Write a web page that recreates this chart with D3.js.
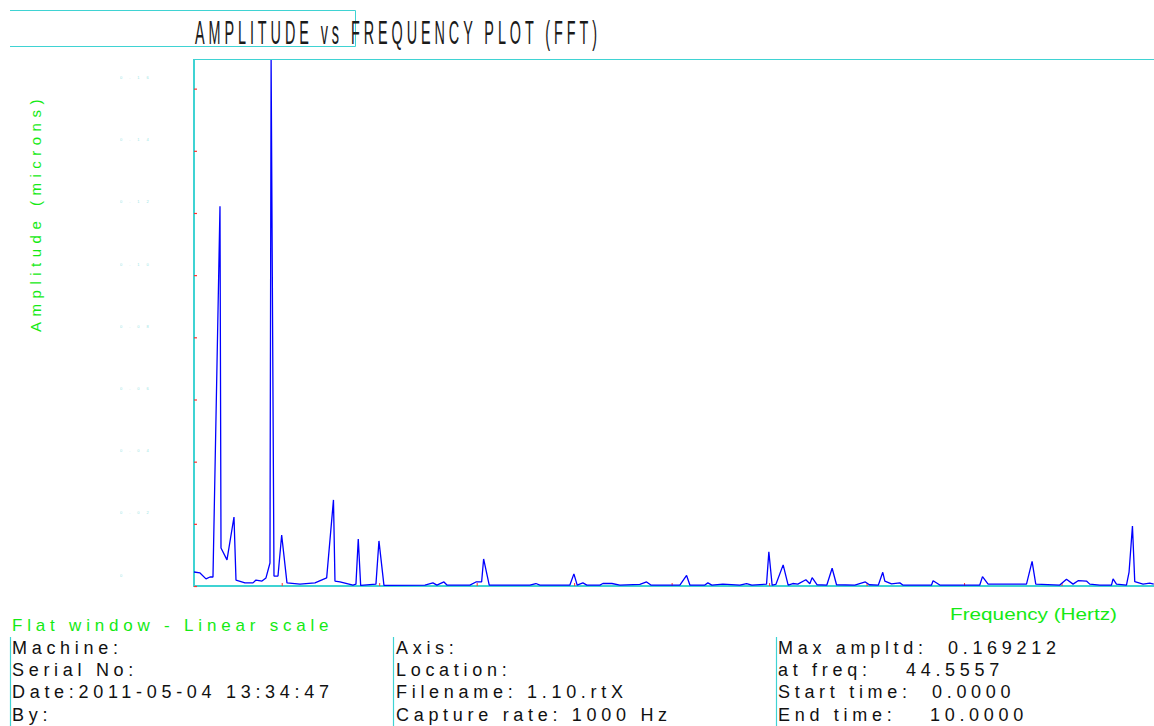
<!DOCTYPE html>
<html>
<head>
<meta charset="utf-8">
<script src="https://cdn.jsdelivr.net/npm/d3@7"></script>
<style>
  html, body { margin: 0; padding: 0; background: #ffffff; }
  svg { display: block; }
  text { font-family: "Liberation Sans", Arial, sans-serif; }
</style>
</head>
<body>
<svg id="chart" width="1154" height="726"></svg>
<script>
// Spectrum peak reported in the footer
const peakFreq = 44.5557;
const peakAmp = 0.169212;

// FFT spectrum vertices: frequency (Hz) and amplitude (microns)
const freqs = [
  5.00, 8.08, 11.15, 13.21, 14.74, 18.33, 18.85, 21.92, 25.51, 26.54,
  31.15, 35.26, 36.79, 39.87, 41.92, 43.97, peakFreq, 46.03, 48.08, 49.97,
  52.69, 59.36, 67.05, 73.05, 76.54, 77.31, 79.87, 86.54, 88.08, 89.26,
  90.49, 98.33, 99.87, 102.44, 123.46, 127.56, 129.62, 133.21, 134.74, 146.54,
  149.62, 152.54, 153.56, 156.44, 177.31, 180.38, 182.44, 197.82, 199.87, 201.56,
  204.49, 206.54, 213.21, 214.74, 219.36, 223.46, 233.72, 237.15, 239.36, 254.23,
  257.67, 259.36, 267.05, 268.59, 270.64, 276.28, 285.00, 288.44, 291.15, 298.69,
  299.87, 301.56, 303.46, 307.21, 309.77, 312.18, 314.74, 318.85, 320.90, 322.08,
  324.64, 329.62, 332.33, 334.59, 343.97, 349.36, 351.44, 356.05, 358.31, 359.36,
  362.79, 367.05, 368.59, 383.31, 384.13, 387.56, 408.08, 409.46, 412.33, 432.03,
  434.90, 436.79, 449.10, 452.54, 455.92, 458.49, 462.79, 464.49, 469.62, 475.62,
  476.44, 478.18, 483.31, 484.64, 486.38, 487.56, 491.82, 495.26, 497.31
];
const amps = [
  0.0045, 0.0042, 0.0023, 0.0029, 0.0029, 0.1222, 0.0122, 0.0084, 0.0222, 0.0019,
  0.0010, 0.0010, 0.0019, 0.0016, 0.0026, 0.0074, peakAmp, 0.0032, 0.0032, 0.0164,
  0.0010, 0.0006, 0.0010, 0.0026, 0.0277, 0.0016, 0.0013, 0.0003, 0.0006, 0.0151,
  0.0002, 0.0006, 0.0145, 0.0002, 0.0003, 0.0010, 0.0003, 0.0013, 0.0003, 0.0003,
  0.0013, 0.0013, 0.0087, 0.0003, 0.0003, 0.0008, 0.0003, 0.0003, 0.0039, 0.0003,
  0.0010, 0.0003, 0.0003, 0.0008, 0.0008, 0.0003, 0.0005, 0.0013, 0.0003, 0.0003,
  0.0034, 0.0003, 0.0003, 0.0010, 0.0003, 0.0006, 0.0003, 0.0008, 0.0003, 0.0006,
  0.0110, 0.0003, 0.0005, 0.0068, 0.0003, 0.0008, 0.0006, 0.0020, 0.0007, 0.0027,
  0.0004, 0.0003, 0.0057, 0.0004, 0.0003, 0.0013, 0.0004, 0.0003, 0.0044, 0.0016,
  0.0007, 0.0010, 0.0003, 0.0003, 0.0017, 0.0003, 0.0003, 0.0030, 0.0006, 0.0006,
  0.0079, 0.0006, 0.0003, 0.0022, 0.0006, 0.0017, 0.0016, 0.0006, 0.0003, 0.0003,
  0.0023, 0.0006, 0.0003, 0.0045, 0.0193, 0.0014, 0.0006, 0.0009, 0.0006
];

// Axis ticks
const xTicks = [50, 100, 150, 200, 250, 300, 350, 400, 450];
const yTicks = [0, 0.02, 0.04, 0.06, 0.08, 0.10, 0.12, 0.14, 0.16];
const yTickLabels = ["0", "0.02", "0.04", "0.06", "0.08", "0.10", "0.12", "0.14", "0.16"];

// Text blocks
const titleText = "AMPLITUDE vs FREQUENCY PLOT (FFT)";
const yTitle = "Amplitude (microns)";
const xTitle = "Frequency (Hertz)";
const windowNote = "Flat window - Linear scale";
const infoLeft = ["Machine:", "Serial No:", "Date:2011-05-04 13:34:47", "By:"];
const infoMid = ["Axis:", "Location:", "Filename: 1.10.rtX", "Capture rate: 1000 Hz"];
const infoRightLabels = ["Max ampltd:", "at freq:", "Start time:", "End time:"];
const infoRightValues = [String(peakAmp), String(peakFreq), "0.0000", "10.0000"];

const CYAN = "#3fd3d3";
const GREEN = "#14ea14";

const svg = d3.select("#chart");

const plot = { left: 194, top: 60, bottom: 586, right: 1159 };

const x = d3.scaleLinear().domain([5, 500]).range([plot.left, plot.right]);
const y = d3.scaleLinear().domain([0, peakAmp]).range([plot.bottom, plot.top]);

// Title box (open on the left) and title
svg.append("path")
  .attr("d", "M10,10.5 H355.5 V46.5 H10")
  .attr("fill", "none").attr("stroke", CYAN).attr("stroke-width", 1);

svg.append("text")
  .attr("x", 195).attr("y", 44)
  .attr("font-size", 33)
  .attr("letter-spacing", 9)
  .attr("fill", "#1a1a1a")
  .attr("textLength", 406)
  .attr("lengthAdjust", "spacingAndGlyphs")
  .style("font-family", "'Liberation Sans Narrow', 'Liberation Sans', Arial, sans-serif")
  .text(titleText);

// Plot frame: top border
svg.append("line")
  .attr("x1", plot.left).attr("x2", 1154)
  .attr("y1", plot.top - 0.5).attr("y2", plot.top - 0.5)
  .attr("stroke", CYAN).attr("stroke-width", 1.2);

// Left axis line
svg.append("line")
  .attr("x1", plot.left).attr("x2", plot.left)
  .attr("y1", plot.top - 1).attr("y2", plot.bottom + 1)
  .attr("stroke", CYAN).attr("stroke-width", 2);

// Bottom axis line
svg.append("line")
  .attr("x1", plot.left - 1).attr("x2", 1154)
  .attr("y1", plot.bottom).attr("y2", plot.bottom)
  .attr("stroke", CYAN).attr("stroke-width", 1.8);

// Y ticks (red marks) and faint labels
const yAxis = d3.axisLeft(y).tickValues(yTicks).tickSize(0)
  .tickFormat((d, i) => yTickLabels[i]);
const yg = svg.append("g").attr("transform", `translate(${plot.left},0)`).call(yAxis);
yg.select(".domain").remove();
yg.selectAll(".tick text")
  .attr("x", 120 - plot.left)
  .attr("dy", -10)
  .attr("text-anchor", "start")
  .attr("font-size", 4)
  .attr("letter-spacing", 7)
  .attr("fill", "#7fdede")
  .attr("opacity", 0.8);
yg.selectAll(".tick").append("line")
  .attr("x1", 0).attr("x2", 3)
  .attr("stroke", "#ff3030").attr("stroke-width", 1.2);

// X ticks (red marks)
const xAxis = d3.axisBottom(x).tickValues(xTicks).tickSize(0).tickFormat("");
const xg = svg.append("g").attr("transform", `translate(0,${plot.bottom})`).call(xAxis);
xg.select(".domain").remove();
xg.selectAll(".tick").append("line")
  .attr("y1", -3).attr("y2", 0)
  .attr("stroke", "#ff3030").attr("stroke-width", 1);

// Spectrum line
const points = freqs.map((f, i) => [f, amps[i]]);
svg.append("path")
  .datum(points)
  .attr("fill", "none")
  .attr("stroke", "#0000ff")
  .attr("stroke-width", 1.3)
  .attr("stroke-linejoin", "bevel")
  .attr("d", d3.line().x(d => x(d[0])).y(d => y(d[1])));

// Axis titles
svg.append("text")
  .attr("transform", "translate(41,213) rotate(-90)")
  .attr("text-anchor", "middle")
  .attr("font-size", 15)
  .attr("letter-spacing", 5.5)
  .attr("fill", GREEN)
  .text(yTitle);

svg.append("text")
  .attr("x", 950).attr("y", 620)
  .attr("font-size", 17)
  .attr("fill", GREEN)
  .attr("textLength", 167)
  .attr("lengthAdjust", "spacingAndGlyphs")
  .text(xTitle);

// Footer
svg.append("text")
  .attr("x", 12).attr("y", 631)
  .attr("font-size", 17)
  .attr("letter-spacing", 4.8)
  .attr("fill", GREEN)
  .text(windowNote);

[10.5, 393.5, 776.5].forEach(xx => {
  svg.append("line")
    .attr("x1", xx).attr("x2", xx)
    .attr("y1", 637).attr("y2", 726)
    .attr("stroke", CYAN).attr("stroke-width", 1.2);
});

const rowY = i => 654 + i * 22.2;
function infoColumn(lines, x0) {
  svg.append("g").selectAll("text").data(lines).join("text")
    .attr("x", x0).attr("y", (d, i) => rowY(i))
    .attr("font-size", 18)
    .attr("letter-spacing", 4.7)
    .attr("fill", "#111")
    .text(d => d);
}
infoColumn(infoLeft, 12);
infoColumn(infoMid, 396);
infoColumn(infoRightLabels, 778);

const valueX = [948, 906, 932, 930];
svg.append("g").selectAll("text").data(infoRightValues).join("text")
  .attr("x", (d, i) => valueX[i]).attr("y", (d, i) => rowY(i))
  .attr("font-size", 18)
  .attr("letter-spacing", 4.7)
  .attr("fill", "#111")
  .text(d => d);
</script>
</body>
</html>
